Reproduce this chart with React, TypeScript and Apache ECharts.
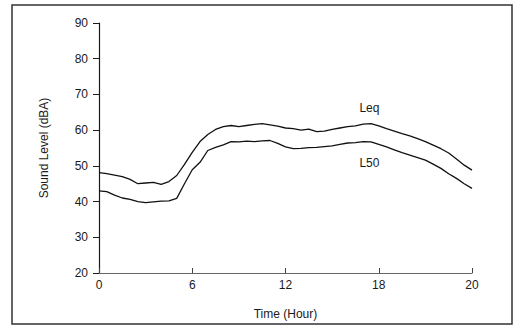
import React, { useEffect, useRef } from "react";
import * as echarts from "echarts";

const hours = [
  0, 0.5, 1, 1.5, 2, 2.5, 3, 3.5, 4, 4.5, 5, 5.5, 6, 6.5, 7, 7.5, 8, 8.5, 9, 9.5,
  10, 10.5, 11, 11.5, 12, 12.5, 13, 13.5, 14, 14.5, 15, 15.5, 16, 16.5, 17, 17.5,
  18, 18.5, 19, 19.5, 20, 20.5, 21, 21.5, 22, 22.5, 23, 23.5, 24,
];

const leq = [
  48.1, 47.8, 47.4, 47.0, 46.2, 45.0, 45.2, 45.4, 44.8, 45.6, 47.3, 50.4, 53.8,
  56.8, 58.8, 60.2, 61.0, 61.3, 61.0, 61.3, 61.6, 61.8, 61.5, 61.1, 60.6, 60.4,
  60.0, 60.3, 59.6, 59.7, 60.2, 60.6, 61.0, 61.2, 61.7, 61.8, 61.2, 60.4, 59.7,
  59.0, 58.4, 57.6, 56.8, 55.8, 54.8, 53.6, 51.9, 50.2, 48.8,
];

const l50 = [
  43.0, 42.8, 41.8, 41.0, 40.6, 40.0, 39.7, 39.9, 40.1, 40.2, 40.9, 45.0, 48.9,
  51.0, 54.3, 55.2, 55.9, 56.8, 56.7, 56.9, 56.8, 57.0, 57.1, 56.3, 55.3, 54.8,
  54.9, 55.1, 55.2, 55.4, 55.6, 56.0, 56.4, 56.5, 56.8, 56.7, 56.0, 55.3, 54.5,
  53.7, 53.0, 52.3, 51.6, 50.5, 49.3, 47.8, 46.5, 45.0, 43.7,
];

const xTickValues = [0, 6, 12, 18, 24];
const xTickLabels = ["0", "6", "12", "18", "20"];

const seriesNames = ["Leq", "L50"];
const labelCoords = [
  [17.4, 66.3],
  [17.4, 50.8],
];

const FONT = "Liberation Sans";
const INK = "#1a1a1a";

export default function App() {
  const ref = useRef<HTMLDivElement>(null);

  useEffect(() => {
    if (!ref.current) return;
    const chart = echarts.init(ref.current, null, { renderer: "svg" });
    const mk = (vals: number[], idx: number) => ({
      type: "line",
      name: seriesNames[idx],
      data: hours.map((h, i) => [h, vals[i]]),
      showSymbol: false,
      symbol: "none",
      smooth: false,
      lineStyle: { color: "#111", width: 1.3 },
      markPoint: {
        symbol: "rect",
        symbolSize: 1,
        itemStyle: { color: "rgba(0,0,0,0)" },
        label: {
          show: true,
          position: "inside",
          formatter: seriesNames[idx],
          color: INK,
          fontFamily: FONT,
          fontSize: 12,
        },
        data: [{ coord: labelCoords[idx] }],
      },
    });
    chart.setOption({
      animation: false,
      backgroundColor: "#ffffff",
      grid: { left: 99, right: 43, top: 23, bottom: 53, containLabel: false },
      xAxis: {
        type: "value",
        min: 0,
        max: 24,
        interval: 6,
        name: "Time (Hour)",
        nameLocation: "middle",
        nameGap: 35,
        nameTextStyle: { color: INK, fontFamily: FONT, fontSize: 12 },
        axisLine: { show: true, lineStyle: { color: "#666", width: 1.2 } },
        axisTick: { show: true, inside: true, length: 5, lineStyle: { color: "#444" } },
        axisLabel: {
          color: INK,
          fontFamily: FONT,
          fontSize: 12,
          margin: 6,
          formatter: (v: number) => {
            const i = xTickValues.indexOf(v);
            return i >= 0 ? xTickLabels[i] : "";
          },
        },
        splitLine: { show: false },
      },
      yAxis: {
        type: "value",
        min: 20,
        max: 90,
        interval: 10,
        name: "Sound Level (dBA)",
        nameLocation: "middle",
        nameGap: 49,
        nameTextStyle: { color: INK, fontFamily: FONT, fontSize: 12 },
        axisLine: { show: true, lineStyle: { color: INK, width: 1.2 } },
        axisTick: { show: true, inside: false, length: 6, lineStyle: { color: INK } },
        axisLabel: { color: INK, fontFamily: FONT, fontSize: 12, margin: 11 },
        splitLine: { show: false },
      },
      graphic: [
        {
          type: "rect",
          shape: { x: 12, y: 5, width: 500, height: 319 },
          style: { fill: "none", stroke: "#333", lineWidth: 1.5 },
          silent: true,
        },
      ],
      series: [mk(leq, 0), mk(l50, 1)],
    });
    return () => chart.dispose();
  }, []);

  return (
    <div
      ref={ref}
      style={{ position: "fixed", left: 0, top: 0, width: 515, height: 326 }}
    />
  );
}
